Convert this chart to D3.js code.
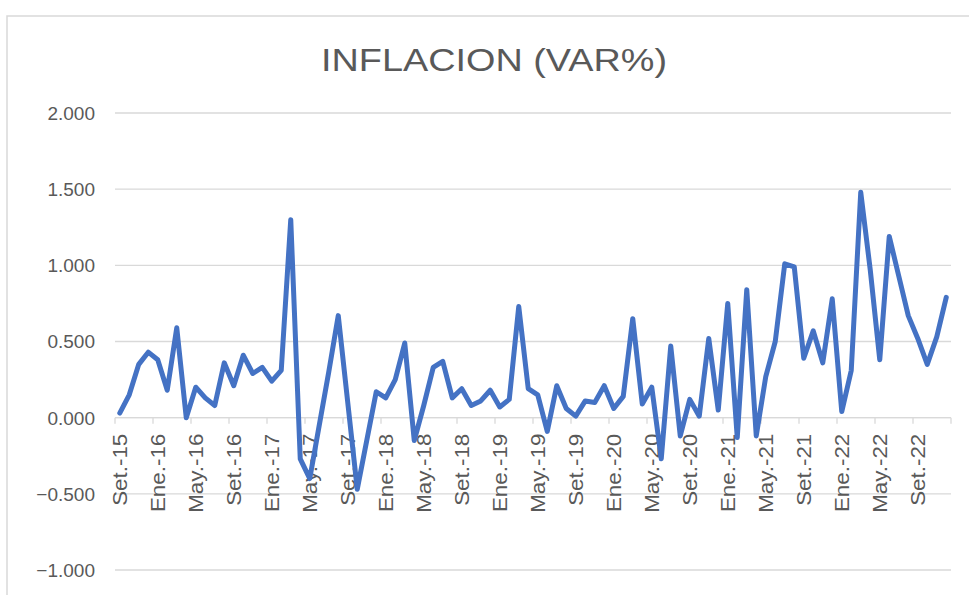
<!DOCTYPE html>
<html>
<head>
<meta charset="utf-8">
<script src="https://cdn.jsdelivr.net/npm/d3@7"></script>
<style>
body{margin:0;background:#fff;}
text{font-family:"Liberation Sans",Arial,sans-serif;fill:#595959;}
</style>
</head>
<body>
<svg id="Inf"></svg>
<script>
//months (category axis)
var months = ["Set.-15","Oct.-15","Nov.-15","Dic.-15",
"Ene.-16","Feb.-16","Mar.-16","Abr.-16","May.-16","Jun.-16","Jul.-16","Ago.-16","Set.-16","Oct.-16","Nov.-16","Dic.-16",
"Ene.-17","Feb.-17","Mar.-17","Abr.-17","May.-17","Jun.-17","Jul.-17","Ago.-17","Set.-17","Oct.-17","Nov.-17","Dic.-17",
"Ene.-18","Feb.-18","Mar.-18","Abr.-18","May.-18","Jun.-18","Jul.-18","Ago.-18","Set.-18","Oct.-18","Nov.-18","Dic.-18",
"Ene.-19","Feb.-19","Mar.-19","Abr.-19","May.-19","Jun.-19","Jul.-19","Ago.-19","Set.-19","Oct.-19","Nov.-19","Dic.-19",
"Ene.-20","Feb.-20","Mar.-20","Abr.-20","May.-20","Jun.-20","Jul.-20","Ago.-20","Set.-20","Oct.-20","Nov.-20","Dic.-20",
"Ene.-21","Feb.-21","Mar.-21","Abr.-21","May.-21","Jun.-21","Jul.-21","Ago.-21","Set.-21","Oct.-21","Nov.-21","Dic.-21",
"Ene.-22","Feb.-22","Mar.-22","Abr.-22","May.-22","Jun.-22","Jul.-22","Ago.-22","Set.-22","Oct.-22","Nov.-22","Dic.-22"]

//monthly inflation (%)
var inflacion = [0.03,0.15,0.35,0.43,
0.38,0.18,0.59,0.00,0.20,0.13,0.08,0.36,0.21,0.41,0.29,0.33,
0.24,0.31,1.30,-0.27,-0.40,-0.05,0.30,0.67,0.10,-0.47,-0.15,0.17,
0.13,0.25,0.49,-0.15,0.08,0.33,0.37,0.13,0.19,0.08,0.11,0.18,
0.07,0.12,0.73,0.19,0.15,-0.09,0.21,0.06,0.01,0.11,0.10,0.21,
0.06,0.14,0.65,0.09,0.20,-0.27,0.47,-0.12,0.12,0.01,0.52,0.05,
0.75,-0.13,0.84,-0.12,0.27,0.50,1.01,0.99,0.39,0.57,0.36,0.78,
0.04,0.31,1.48,0.97,0.38,1.19,0.93,0.67,0.52,0.35,0.53,0.79]

var yTicks = [-1,-0.5,0,0.5,1,1.5,2]
var title = "INFLACION (VAR%)"

var grid = "#d9d9d9"

var drawAxes = function(svg,xScale,yScale)
{
    //gridlines
    svg.append("g")
        .selectAll("line")
        .data(yTicks)
        .enter()
        .append("line")
        .attr("x1",xScale.range()[0])
        .attr("x2",xScale.range()[1])
        .attr("y1",function(d){return yScale(d)})
        .attr("y2",function(d){return yScale(d)})
        .attr("stroke",grid)
        .attr("stroke-width",1.3)

    //y labels
    svg.append("g")
        .selectAll("text")
        .data(yTicks)
        .enter()
        .append("text")
        .text(function(d){return d3.format(".3f")(d)})
        .attr("x",95)
        .attr("y",function(d){return yScale(d)})
        .attr("dy","0.36em")
        .attr("text-anchor","end")
        .style("font-size","19px")

    //category axis at zero
    var y0 = yScale(0)
    var step = xScale.step()
    var tickIdx = d3.range(0,months.length+1,4)
    var axis = svg.append("g")
    axis.append("line")
        .attr("x1",xScale.range()[0])
        .attr("x2",xScale.range()[1])
        .attr("y1",y0)
        .attr("y2",y0)
        .attr("stroke",grid)
        .attr("stroke-width",1.3)
    axis.selectAll(".tk")
        .data(tickIdx)
        .enter()
        .append("line")
        .attr("x1",function(i){return xScale.range()[0]+i*step})
        .attr("x2",function(i){return xScale.range()[0]+i*step})
        .attr("y1",y0)
        .attr("y2",y0+6)
        .attr("stroke",grid)
        .attr("stroke-width",1.3)

    axis.selectAll(".lbl")
        .data(months.filter(function(m,i){return i%4==0}))
        .enter()
        .append("text")
        .text(function(m){return m})
        .attr("text-anchor","end")
        .attr("dy","0.35em")
        .attr("transform",function(m){
            return "translate("+(xScale(m)+xScale.bandwidth()/2)+","+(y0+16)+") rotate(-90) scale(1.12,1)"
        })
        .style("font-size","20px")
}

var drawLine = function(svg,xScale,yScale)
{
    var line = d3.line()
        .x(function(d,i){return xScale(months[i])+xScale.bandwidth()/2})
        .y(function(d){return yScale(d)})

    svg.append("path")
        .datum(inflacion)
        .attr("d",line)
        .attr("fill","none")
        .attr("stroke","#4472C4")
        .attr("stroke-width",5)
        .attr("stroke-linejoin","round")
        .attr("stroke-linecap","round")
}

var initGraph = function()
{
    var screen = {width:969,height:595}
    var plot = {left:115,right:951,top:113,bottom:570}

    var svg = d3.select("#Inf")
        .attr("width",screen.width)
        .attr("height",screen.height)

    //chart frame
    svg.append("path")
        .attr("d","M7,"+(screen.height+2)+"V16H"+(screen.width+2))
        .attr("fill","none")
        .attr("stroke",grid)
        .attr("stroke-width",1.5)

    var xScale = d3.scaleBand()
        .domain(months)
        .range([plot.left,plot.right])
        .padding(0)

    var yScale = d3.scaleLinear()
        .domain([-1,2])
        .range([plot.bottom,plot.top])

    svg.append("text")
        .text(title)
        .attr("x",494)
        .attr("y",71)
        .attr("text-anchor","middle")
        .attr("textLength",346)
        .attr("lengthAdjust","spacingAndGlyphs")
        .style("font-size","31px")

    drawAxes(svg,xScale,yScale)
    drawLine(svg,xScale,yScale)
}

initGraph()
</script>
</body>
</html>
